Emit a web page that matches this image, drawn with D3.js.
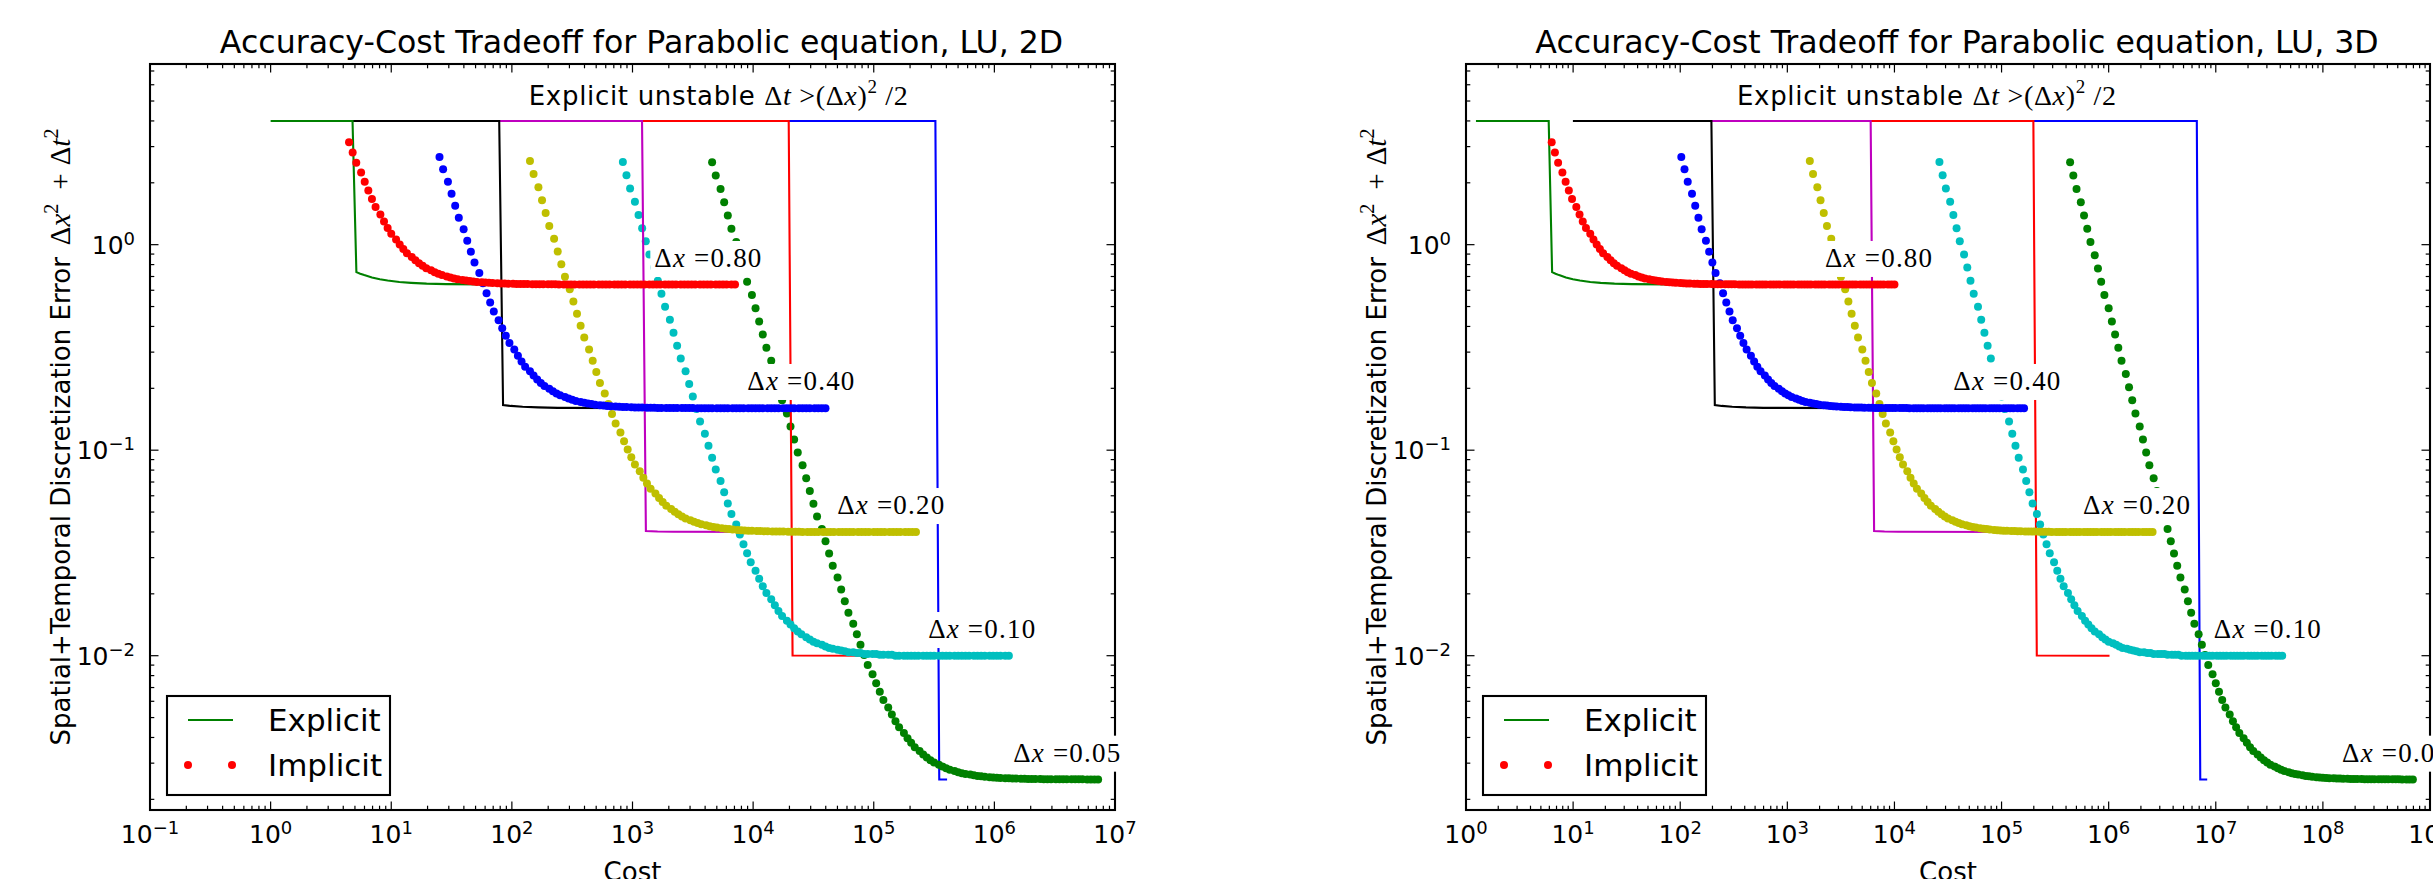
<!DOCTYPE html>
<html>
<head>
<meta charset="utf-8">
<script src="https://cdn.jsdelivr.net/npm/d3@7"></script>
<style>
  body { margin: 0; background: #fff; }
  svg { display: block; }
  text { font-family: "DejaVu Sans", sans-serif; fill: #000; }
  .math { font-family: "Liberation Serif", "DejaVu Serif", serif; }
</style>
</head>
<body>
<script>
// Δx values, in the order the curves were plotted
const dxOrder = ["0.05", "0.10", "0.20", "0.40", "0.80"];

// ---- implicit scheme: error of each dot (same in both panels) ----
const impErr080 = [3.152, 2.805, 2.505, 2.247, 2.025, 1.833, 1.668, 1.526, 1.404, 1.298, 1.207, 1.129, 1.061, 1.003, 0.953, 0.909,
  0.872, 0.840, 0.812, 0.789, 0.768, 0.750, 0.735, 0.722, 0.711, 0.701, 0.692, 0.685, 0.679, 0.674, 0.669, 0.665, 0.662, 0.658, 0.656, 0.654,
  0.652, 0.650, 0.649, 0.648, 0.647, 0.646, 0.645, 0.644, 0.644, 0.643, 0.643, 0.642, 0.642, 0.642, 0.641, 0.641, 0.641, 0.641,
  0.64, 0.64, 0.64, 0.64, 0.64, 0.64, 0.64, 0.64, 0.64, 0.64, 0.64, 0.64, 0.64, 0.64, 0.64, 0.64, 0.64, 0.64, 0.64, 0.64, 0.64, 0.64, 0.64,
  0.64, 0.64, 0.64, 0.64, 0.64, 0.64, 0.64, 0.64, 0.64, 0.64, 0.64, 0.64, 0.64, 0.64, 0.64, 0.64, 0.64, 0.64, 0.64, 0.64, 0.64, 0.64, 0.64];
const impErr040 = [2.672, 2.325, 2.025, 1.767, 1.545, 1.353, 1.188, 1.046, 0.924, 0.818, 0.727, 0.649, 0.581, 0.523, 0.473, 0.429, 0.392, 0.360, 0.332, 0.309,
  0.288, 0.270, 0.255, 0.242, 0.2306, 0.2208, 0.2124, 0.2051, 0.1989, 0.1935, 0.1889, 0.1849, 0.1815, 0.1785, 0.1759, 0.1737, 0.1718, 0.1702, 0.1688, 0.1676,
  0.1665, 0.1656, 0.1648, 0.1642, 0.1636, 0.1631, 0.1627, 0.1623, 0.1620, 0.1617, 0.1615, 0.1613, 0.1611, 0.1609, 0.1608, 0.1607, 0.1606, 0.1605, 0.1604, 0.1604,
  0.1603, 0.1603, 0.1602, 0.1602, 0.1602, 0.1602, 0.1601, 0.1601, 0.1601, 0.1601,
  0.16, 0.16, 0.16, 0.16, 0.16, 0.16, 0.16, 0.16, 0.16, 0.16, 0.16, 0.16, 0.16, 0.16, 0.16,
  0.16, 0.16, 0.16, 0.16, 0.16, 0.16, 0.16, 0.16, 0.16, 0.16, 0.16, 0.16, 0.16, 0.16, 0.16];
const impErr020 = [2.552, 2.205, 1.905, 1.647, 1.425, 1.233, 1.068, 0.926, 0.804, 0.698, 0.607, 0.529, 0.461, 0.403, 0.353, 0.309, 0.272, 0.240, 0.212, 0.1885,
  0.168, 0.150, 0.135, 0.1219, 0.1106, 0.1008, 0.0924, 0.0851, 0.0789, 0.0735, 0.0689, 0.0649, 0.0615, 0.0585, 0.0559, 0.0537, 0.0518, 0.0502, 0.0488, 0.0476,
  0.0465, 0.0456, 0.0448, 0.0442, 0.0436, 0.0431, 0.0427, 0.0423, 0.0420, 0.0417, 0.0415, 0.0413, 0.0411, 0.0409, 0.0408, 0.0407, 0.0406, 0.0405, 0.0404, 0.0404,
  0.0403, 0.0403, 0.0402, 0.0402, 0.0402, 0.0402, 0.0401, 0.0401, 0.0401, 0.0401,
  0.04, 0.04, 0.04, 0.04, 0.04, 0.04, 0.04, 0.04, 0.04, 0.04, 0.04, 0.04, 0.04, 0.04, 0.04,
  0.04, 0.04, 0.04, 0.04, 0.04, 0.04, 0.04, 0.04, 0.04, 0.04, 0.04, 0.04, 0.04, 0.04, 0.04];
const impErr010 = [2.522, 2.175, 1.875, 1.617, 1.395, 1.203, 1.038, 0.896, 0.774, 0.668, 0.577, 0.4985, 0.431, 0.3727, 0.3226, 0.2793, 0.2421, 0.2100, 0.1823, 0.1585,
  0.1380, 0.1203, 0.1050, 0.0919, 0.0806, 0.0708, 0.0624, 0.0551, 0.0489, 0.0435, 0.0389, 0.0349, 0.0315, 0.0285, 0.0259, 0.0237, 0.0218, 0.0202, 0.0188, 0.0176,
  0.0165, 0.0156, 0.0148, 0.0142, 0.0136, 0.0131, 0.0127, 0.0123, 0.0120, 0.0117, 0.0115, 0.0113, 0.0111, 0.0109, 0.0108, 0.0107, 0.0106, 0.0105, 0.0104, 0.0104,
  0.0103, 0.0103, 0.0102, 0.0102, 0.0102, 0.0102, 0.0101, 0.0101, 0.0101, 0.0101,
  0.01, 0.01, 0.01, 0.01, 0.01, 0.01, 0.01, 0.01, 0.01, 0.01, 0.01, 0.01, 0.01, 0.01, 0.01,
  0.01, 0.01, 0.01, 0.01, 0.01, 0.01, 0.01, 0.01, 0.01, 0.01, 0.01, 0.01, 0.01, 0.01, 0.01];
const impErr005 = [2.515, 2.168, 1.868, 1.610, 1.388, 1.196, 1.031, 0.889, 0.766, 0.660, 0.569, 0.491, 0.423, 0.365, 0.315, 0.272, 0.2346, 0.2025, 0.1748, 0.1510,
  0.1305, 0.1128, 0.0975, 0.0844, 0.0731, 0.0633, 0.0549, 0.0476, 0.0414, 0.0360, 0.0314, 0.0274, 0.0240, 0.0210, 0.0184, 0.0162, 0.0143, 0.0127, 0.0113, 0.01007,
  0.00902, 0.00812, 0.00734, 0.00667, 0.00609, 0.00560, 0.00517, 0.00480, 0.00448, 0.00421, 0.00397, 0.00377, 0.00359, 0.00344, 0.00331, 0.00320, 0.00310, 0.00302, 0.00295, 0.00289,
  0.00283, 0.00279, 0.00275, 0.00271, 0.00268, 0.00266, 0.00264, 0.00262, 0.00260, 0.00259, 0.002575, 0.002565, 0.002556, 0.002548, 0.002541, 0.002536, 0.002531, 0.002526, 0.002523, 0.00252,
  0.002517, 0.002515, 0.002513, 0.002511, 0.002509, 0.002508, 0.002507, 0.002506, 0.002505, 0.002504, 0.002504, 0.002503, 0.002503, 0.002502, 0.002502, 0.002502, 0.002501, 0.002501, 0.002501, 0.0025];

// ---- implicit scheme: log10(cost) of each dot, 2D panel ----
const impCost2d080 = [0.65, 0.68, 0.71, 0.75, 0.78, 0.81, 0.84, 0.87, 0.91, 0.94, 0.97, 1.00, 1.04, 1.07, 1.10, 1.13, 1.17, 1.20, 1.23, 1.26,
  1.29, 1.33, 1.36, 1.39, 1.42, 1.46, 1.49, 1.52, 1.55, 1.59, 1.62, 1.65, 1.68, 1.71, 1.75, 1.78, 1.81, 1.84, 1.88, 1.91,
  1.94, 1.97, 2.01, 2.04, 2.07, 2.10, 2.13, 2.17, 2.20, 2.23, 2.26, 2.30, 2.33, 2.36, 2.39, 2.43, 2.46, 2.49, 2.52, 2.56,
  2.59, 2.62, 2.65, 2.68, 2.72, 2.75, 2.78, 2.81, 2.85, 2.88, 2.91, 2.94, 2.98, 3.01, 3.04, 3.07, 3.10, 3.14, 3.17, 3.20,
  3.23, 3.27, 3.30, 3.33, 3.36, 3.40, 3.43, 3.46, 3.49, 3.52, 3.56, 3.59, 3.62, 3.65, 3.69, 3.72, 3.75, 3.78, 3.82, 3.85];
const impCost2d040 = [1.40, 1.43, 1.47, 1.50, 1.53, 1.56, 1.60, 1.63, 1.66, 1.69, 1.73, 1.76, 1.79, 1.82, 1.85, 1.89, 1.92, 1.95, 1.98, 2.02,
  2.05, 2.08, 2.11, 2.15, 2.18, 2.21, 2.24, 2.27, 2.31, 2.34, 2.37, 2.40, 2.44, 2.47, 2.50, 2.53, 2.57, 2.60, 2.63, 2.66,
  2.69, 2.73, 2.76, 2.79, 2.82, 2.86, 2.89, 2.92, 2.95, 2.99, 3.02, 3.05, 3.08, 3.12, 3.15, 3.18, 3.21, 3.24, 3.28, 3.31,
  3.34, 3.37, 3.41, 3.44, 3.47, 3.50, 3.54, 3.57, 3.60, 3.63, 3.66, 3.70, 3.73, 3.76, 3.79, 3.83, 3.86, 3.89, 3.92, 3.96,
  3.99, 4.02, 4.05, 4.08, 4.12, 4.15, 4.18, 4.21, 4.25, 4.28, 4.31, 4.34, 4.38, 4.41, 4.44, 4.47, 4.51, 4.54, 4.57, 4.60];
const impCost2d020 = [2.15, 2.18, 2.22, 2.25, 2.28, 2.31, 2.35, 2.38, 2.41, 2.44, 2.48, 2.51, 2.54, 2.57, 2.60, 2.64, 2.67, 2.70, 2.73, 2.77,
  2.80, 2.83, 2.86, 2.90, 2.93, 2.96, 2.99, 3.02, 3.06, 3.09, 3.12, 3.15, 3.19, 3.22, 3.25, 3.28, 3.32, 3.35, 3.38, 3.41,
  3.44, 3.48, 3.51, 3.54, 3.57, 3.61, 3.64, 3.67, 3.70, 3.74, 3.77, 3.80, 3.83, 3.87, 3.90, 3.93, 3.96, 3.99, 4.03, 4.06,
  4.09, 4.12, 4.16, 4.19, 4.22, 4.25, 4.29, 4.32, 4.35, 4.38, 4.41, 4.45, 4.48, 4.51, 4.54, 4.58, 4.61, 4.64, 4.67, 4.71,
  4.74, 4.77, 4.80, 4.83, 4.87, 4.90, 4.93, 4.96, 5.00, 5.03, 5.06, 5.09, 5.13, 5.16, 5.19, 5.22, 5.26, 5.29, 5.32, 5.35];
const impCost2d010 = [2.92, 2.95, 2.98, 3.02, 3.05, 3.08, 3.11, 3.14, 3.18, 3.21, 3.24, 3.27, 3.31, 3.34, 3.37, 3.40, 3.44, 3.47, 3.50, 3.53,
  3.56, 3.60, 3.63, 3.66, 3.69, 3.73, 3.76, 3.79, 3.82, 3.86, 3.89, 3.92, 3.95, 3.98, 4.02, 4.05, 4.08, 4.11, 4.15, 4.18,
  4.21, 4.24, 4.28, 4.31, 4.34, 4.37, 4.40, 4.44, 4.47, 4.50, 4.53, 4.57, 4.60, 4.63, 4.66, 4.70, 4.73, 4.76, 4.79, 4.83,
  4.86, 4.89, 4.92, 4.95, 4.99, 5.02, 5.05, 5.08, 5.12, 5.15, 5.18, 5.21, 5.25, 5.28, 5.31, 5.34, 5.37, 5.41, 5.44, 5.47,
  5.50, 5.54, 5.57, 5.60, 5.63, 5.67, 5.70, 5.73, 5.76, 5.79, 5.83, 5.86, 5.89, 5.92, 5.96, 5.99, 6.02, 6.05, 6.09, 6.12];
const impCost2d005 = [3.66, 3.69, 3.73, 3.76, 3.79, 3.82, 3.86, 3.89, 3.92, 3.95, 3.99, 4.02, 4.05, 4.08, 4.11, 4.15, 4.18, 4.21, 4.24, 4.28,
  4.31, 4.34, 4.37, 4.41, 4.44, 4.47, 4.50, 4.53, 4.57, 4.60, 4.63, 4.66, 4.70, 4.73, 4.76, 4.79, 4.83, 4.86, 4.89, 4.92,
  4.95, 4.99, 5.02, 5.05, 5.08, 5.12, 5.15, 5.18, 5.21, 5.25, 5.28, 5.31, 5.34, 5.38, 5.41, 5.44, 5.47, 5.50, 5.54, 5.57,
  5.60, 5.63, 5.67, 5.70, 5.73, 5.76, 5.80, 5.83, 5.86, 5.89, 5.92, 5.96, 5.99, 6.02, 6.05, 6.09, 6.12, 6.15, 6.18, 6.22,
  6.25, 6.28, 6.31, 6.34, 6.38, 6.41, 6.44, 6.47, 6.51, 6.54, 6.57, 6.60, 6.64, 6.67, 6.70, 6.73, 6.77, 6.80, 6.83, 6.86];

// ---- implicit scheme: log10(cost) of each dot, 3D panel ----
const impCost3d080 = [0.80, 0.83, 0.86, 0.90, 0.93, 0.96, 0.99, 1.03, 1.06, 1.09, 1.12, 1.16, 1.19, 1.22, 1.25, 1.28, 1.32, 1.35, 1.38, 1.41,
  1.45, 1.48, 1.51, 1.54, 1.58, 1.61, 1.64, 1.67, 1.71, 1.74, 1.77, 1.80, 1.83, 1.87, 1.90, 1.93, 1.96, 2.00, 2.03, 2.06,
  2.09, 2.13, 2.16, 2.19, 2.22, 2.25, 2.29, 2.32, 2.35, 2.38, 2.42, 2.45, 2.48, 2.51, 2.55, 2.58, 2.61, 2.64, 2.67, 2.71,
  2.74, 2.77, 2.80, 2.84, 2.87, 2.90, 2.93, 2.97, 3.00, 3.03, 3.06, 3.10, 3.13, 3.16, 3.19, 3.22, 3.26, 3.29, 3.32, 3.35,
  3.39, 3.42, 3.45, 3.48, 3.52, 3.55, 3.58, 3.61, 3.64, 3.68, 3.71, 3.74, 3.77, 3.81, 3.84, 3.87, 3.90, 3.94, 3.97, 4.00];
const impCost3d040 = [2.01, 2.04, 2.07, 2.11, 2.14, 2.17, 2.20, 2.24, 2.27, 2.30, 2.33, 2.37, 2.40, 2.43, 2.46, 2.49, 2.53, 2.56, 2.59, 2.62,
  2.66, 2.69, 2.72, 2.75, 2.79, 2.82, 2.85, 2.88, 2.92, 2.95, 2.98, 3.01, 3.04, 3.08, 3.11, 3.14, 3.17, 3.21, 3.24, 3.27,
  3.30, 3.34, 3.37, 3.40, 3.43, 3.46, 3.50, 3.53, 3.56, 3.59, 3.63, 3.66, 3.69, 3.72, 3.76, 3.79, 3.82, 3.85, 3.88, 3.92,
  3.95, 3.98, 4.01, 4.05, 4.08, 4.11, 4.14, 4.18, 4.21, 4.24, 4.27, 4.31, 4.34, 4.37, 4.40, 4.43, 4.47, 4.50, 4.53, 4.56,
  4.60, 4.63, 4.66, 4.69, 4.73, 4.76, 4.79, 4.82, 4.85, 4.89, 4.92, 4.95, 4.98, 5.02, 5.05, 5.08, 5.11, 5.15, 5.18, 5.21];
const impCost3d020 = [3.21, 3.24, 3.28, 3.31, 3.34, 3.37, 3.41, 3.44, 3.47, 3.50, 3.54, 3.57, 3.60, 3.63, 3.66, 3.70, 3.73, 3.76, 3.79, 3.83,
  3.86, 3.89, 3.92, 3.96, 3.99, 4.02, 4.05, 4.08, 4.12, 4.15, 4.18, 4.21, 4.25, 4.28, 4.31, 4.34, 4.38, 4.41, 4.44, 4.47,
  4.50, 4.54, 4.57, 4.60, 4.63, 4.67, 4.70, 4.73, 4.76, 4.80, 4.83, 4.86, 4.89, 4.93, 4.96, 4.99, 5.02, 5.05, 5.09, 5.12,
  5.15, 5.18, 5.22, 5.25, 5.28, 5.31, 5.35, 5.38, 5.41, 5.44, 5.47, 5.51, 5.54, 5.57, 5.60, 5.64, 5.67, 5.70, 5.73, 5.77,
  5.80, 5.83, 5.86, 5.89, 5.93, 5.96, 5.99, 6.02, 6.06, 6.09, 6.12, 6.15, 6.19, 6.22, 6.25, 6.28, 6.32, 6.35, 6.38, 6.41];
const impCost3d010 = [4.42, 4.45, 4.48, 4.52, 4.55, 4.58, 4.61, 4.65, 4.68, 4.71, 4.74, 4.78, 4.81, 4.84, 4.87, 4.90, 4.94, 4.97, 5.00, 5.03,
  5.07, 5.10, 5.13, 5.16, 5.20, 5.23, 5.26, 5.29, 5.33, 5.36, 5.39, 5.42, 5.45, 5.49, 5.52, 5.55, 5.58, 5.62, 5.65, 5.68,
  5.71, 5.75, 5.78, 5.81, 5.84, 5.87, 5.91, 5.94, 5.97, 6.00, 6.04, 6.07, 6.10, 6.13, 6.17, 6.20, 6.23, 6.26, 6.29, 6.33,
  6.36, 6.39, 6.42, 6.46, 6.49, 6.52, 6.55, 6.59, 6.62, 6.65, 6.68, 6.72, 6.75, 6.78, 6.81, 6.84, 6.88, 6.91, 6.94, 6.97,
  7.01, 7.04, 7.07, 7.10, 7.14, 7.17, 7.20, 7.23, 7.26, 7.30, 7.33, 7.36, 7.39, 7.43, 7.46, 7.49, 7.52, 7.56, 7.59, 7.62];
const impCost3d005 = [5.64, 5.67, 5.70, 5.74, 5.77, 5.80, 5.83, 5.87, 5.90, 5.93, 5.96, 6.00, 6.03, 6.06, 6.09, 6.12, 6.16, 6.19, 6.22, 6.25,
  6.29, 6.32, 6.35, 6.38, 6.42, 6.45, 6.48, 6.51, 6.55, 6.58, 6.61, 6.64, 6.67, 6.71, 6.74, 6.77, 6.80, 6.84, 6.87, 6.90,
  6.93, 6.97, 7.00, 7.03, 7.06, 7.09, 7.13, 7.16, 7.19, 7.22, 7.26, 7.29, 7.32, 7.35, 7.39, 7.42, 7.45, 7.48, 7.51, 7.55,
  7.58, 7.61, 7.64, 7.68, 7.71, 7.74, 7.77, 7.81, 7.84, 7.87, 7.90, 7.94, 7.97, 8.00, 8.03, 8.06, 8.10, 8.13, 8.16, 8.19,
  8.23, 8.26, 8.29, 8.32, 8.36, 8.39, 8.42, 8.45, 8.48, 8.52, 8.55, 8.58, 8.61, 8.65, 8.68, 8.71, 8.74, 8.78, 8.81, 8.84];

// ---- explicit scheme: error at the line's break points (4 = unstable) ----
const expErr080 = [4, 4, 0.735, 0.722, 0.711, 0.692, 0.679, 0.669, 0.658, 0.652, 0.6465, 0.643, 0.6407, 0.64];
const expErr040 = [4, 4, 0.1656, 0.1642, 0.1627, 0.1615, 0.1607, 0.16];
const expErr020 = [4, 4, 0.0404, 0.0402, 0.0401, 0.04];
const expErr010 = [4, 4, 0.01002, 0.01];
const expErr005 = [4, 4, 0.0025, 0.0025];
// log10(cost), 2D panel
const expCost2d080 = [0, 0.679, 0.711, 0.743, 0.776, 0.840, 0.905, 0.970, 1.067, 1.164, 1.293, 1.455, 1.778, 3.2];
const expCost2d040 = [0.602, 1.895, 1.927, 1.992, 2.089, 2.218, 2.380, 3.802];
const expCost2d020 = [1.204, 3.079, 3.111, 3.208, 3.337, 4.404];
const expCost2d010 = [1.806, 4.295, 4.327, 5.006];
const expCost2d005 = [2.408, 5.511, 5.543, 5.608];
// log10(cost), 3D panel
const expCost3d080 = [0.093, 0.772, 0.804, 0.836, 0.869, 0.933, 0.998, 1.063, 1.160, 1.257, 1.386, 1.548, 1.871, 3.293];
const expCost3d040 = [0.998, 2.291, 2.323, 2.388, 2.485, 2.614, 2.776, 4.198];
const expCost3d020 = [1.903, 3.778, 3.810, 3.907, 4.036, 5.103];
const expCost3d010 = [2.808, 5.297, 5.329, 6.008];
const expCost3d005 = [3.72, 6.823, 6.855, 6.92];

// Δx labels (left end of text), same order as dxOrder
const labelErr = [0.00305, 0.01219, 0.0489, 0.1963, 0.779];
const labelCost2d = [6.156, 5.451, 4.697, 3.952, 3.181];
const labelCost3d = [8.179, 6.982, 5.761, 4.55, 3.352];

// tick exponents
const xExp2d = [-1, 0, 1, 2, 3, 4, 5, 6, 7];
const xExp3d = [0, 1, 2, 3, 4, 5, 6, 7, 8, 9];
const yExp = [-2, -1, 0];

const explicitColor = { "0.05": "#0000ff", "0.10": "#ff0000", "0.20": "#bf00bf", "0.40": "#000000", "0.80": "#008000" };
const implicitColor = { "0.05": "#008000", "0.10": "#00bfbf", "0.20": "#bfbf00", "0.40": "#0000ff", "0.80": "#ff0000" };

const W = 2433, H = 879;
const plotTop = 64, plotBottom = 810;
const yDomain = [0.001775, 7.57];

const svg = d3.select("body").append("svg").attr("width", W).attr("height", H);

const panels = [
  {
    id: "p2d", left: 150, right: 1115, xExp: xExp2d, title: "Accuracy-Cost Tradeoff for Parabolic equation, LU, 2D",
    note: 2.14, labelCost: labelCost2d,
    exp: [expCost2d005, expCost2d010, expCost2d020, expCost2d040, expCost2d080],
    imp: [impCost2d005, impCost2d010, impCost2d020, impCost2d040, impCost2d080]
  },
  {
    id: "p3d", left: 1466, right: 2430, xExp: xExp3d, title: "Accuracy-Cost Tradeoff for Parabolic equation, LU, 3D",
    note: 2.53, labelCost: labelCost3d,
    exp: [expCost3d005, expCost3d010, expCost3d020, expCost3d040, expCost3d080],
    imp: [impCost3d005, impCost3d010, impCost3d020, impCost3d040, impCost3d080]
  }
];
const expErr = [expErr005, expErr010, expErr020, expErr040, expErr080];
const impErr = [impErr005, impErr010, impErr020, impErr040, impErr080];

function powLabel(sel, e, size) {
  sel.append("tspan").text("10");
  sel.append("tspan").attr("font-size", size * 0.72).attr("dy", -size * 0.36)
    .text(e < 0 ? "\u2212" + (-e) : String(e));
}

panels.forEach(p => {
  const x = d3.scaleLog().domain([10 ** p.xExp[0], 10 ** p.xExp[p.xExp.length - 1]]).range([p.left, p.right]);
  const y = d3.scaleLog().domain(yDomain).range([plotBottom, plotTop]);
  const g = svg.append("g");

  g.append("clipPath").attr("id", "clip-" + p.id)
    .append("rect").attr("x", p.left).attr("y", plotTop).attr("width", p.right - p.left).attr("height", plotBottom - plotTop);
  const plot = g.append("g").attr("clip-path", `url(#clip-${p.id})`);

  const line = d3.line().x(d => x(10 ** d[0])).y(d => y(d[1]));

  dxOrder.forEach((dx, i) => {
    plot.append("path")
      .datum(d3.zip(p.exp[i], expErr[i]))
      .attr("d", line)
      .attr("fill", "none")
      .attr("stroke", explicitColor[dx])
      .attr("stroke-width", 2.1);
    plot.append("g").selectAll("circle")
      .data(d3.zip(p.imp[i], impErr[i]))
      .join("circle")
      .attr("cx", d => x(10 ** d[0]))
      .attr("cy", d => y(d[1]))
      .attr("r", 4)
      .attr("fill", implicitColor[dx]);
  });

  // ticks on all four sides, pointing in
  const ticks = g.append("g").attr("stroke", "#000").attr("stroke-width", 1.2);
  const xMinor = [];
  p.xExp.slice(0, -1).forEach(e => { for (let m = 2; m <= 9; m++) xMinor.push(m * 10 ** e); });
  const xMajor = p.xExp.map(e => 10 ** e);
  [[xMajor, 8.5], [xMinor, 4.3]].forEach(([vals, len]) => {
    vals.forEach(v => {
      const px = x(v);
      ticks.append("line").attr("x1", px).attr("x2", px).attr("y1", plotBottom).attr("y2", plotBottom - len);
      ticks.append("line").attr("x1", px).attr("x2", px).attr("y1", plotTop).attr("y2", plotTop + len);
    });
  });
  const yMinor = [];
  [-3, -2, -1, 0].forEach(e => { for (let m = 2; m <= 9; m++) { const v = m * 10 ** e; if (v > yDomain[0] && v < yDomain[1]) yMinor.push(v); } });
  const yMajor = yExp.map(e => 10 ** e);
  [[yMajor, 8.5], [yMinor, 4.3]].forEach(([vals, len]) => {
    vals.forEach(v => {
      const py = y(v);
      ticks.append("line").attr("x1", p.left).attr("x2", p.left + len).attr("y1", py).attr("y2", py);
      ticks.append("line").attr("x1", p.right).attr("x2", p.right - len).attr("y1", py).attr("y2", py);
    });
  });

  // spines
  g.append("rect").attr("x", p.left).attr("y", plotTop).attr("width", p.right - p.left).attr("height", plotBottom - plotTop)
    .attr("fill", "none").attr("stroke", "#000").attr("stroke-width", 2.1);

  // tick labels
  p.xExp.forEach(e => {
    const t = g.append("text").attr("x", x(10 ** e)).attr("y", 843).attr("text-anchor", "middle").attr("font-size", 25);
    powLabel(t, e, 25);
  });
  yExp.forEach(e => {
    const t = g.append("text").attr("x", p.left - 15).attr("y", y(10 ** e) + 9).attr("text-anchor", "end").attr("font-size", 25);
    powLabel(t, e, 25);
  });

  // titles
  g.append("text").attr("x", (p.left + p.right) / 2 + 9).attr("y", 53).attr("text-anchor", "middle")
    .attr("font-size", 31.6).text(p.title);
  g.append("text").attr("x", (p.left + p.right) / 2).attr("y", 881).attr("text-anchor", "middle")
    .attr("font-size", 26).text("Cost");

  const yl = g.append("text").attr("transform", `translate(${p.left - 80},${(plotTop + plotBottom) / 2}) rotate(-90)`)
    .attr("text-anchor", "middle").attr("font-size", 26);
  yl.append("tspan").text("Spatial+Temporal Discretization Error");
  yl.append("tspan").attr("class", "math").attr("font-size", 29).attr("dx", 12).text("\u0394");
  yl.append("tspan").attr("class", "math").attr("font-size", 29).attr("font-style", "italic").text("x");
  yl.append("tspan").attr("class", "math").attr("font-size", 20).attr("dy", -12).text("2");
  yl.append("tspan").attr("class", "math").attr("font-size", 29).attr("dy", 12).attr("dx", 14).text("+");
  yl.append("tspan").attr("class", "math").attr("font-size", 29).attr("dx", 8).text("\u0394");
  yl.append("tspan").attr("class", "math").attr("font-size", 29).attr("font-style", "italic").text("t");
  yl.append("tspan").attr("class", "math").attr("font-size", 20).attr("dy", -12).text("2");

  // unstable note
  const nt = g.append("text").attr("x", x(10 ** p.note)).attr("y", y(4.79)).attr("font-size", 26)
    .attr("textLength", 379).attr("lengthAdjust", "spacing");
  nt.append("tspan").text("Explicit unstable ");
  nt.append("tspan").attr("class", "math").attr("font-size", 28).text("\u0394");
  nt.append("tspan").attr("class", "math").attr("font-size", 28).attr("font-style", "italic").text("t");
  nt.append("tspan").attr("class", "math").attr("font-size", 28).text(" >(\u0394");
  nt.append("tspan").attr("class", "math").attr("font-size", 28).attr("font-style", "italic").text("x");
  nt.append("tspan").attr("class", "math").attr("font-size", 28).text(")");
  nt.append("tspan").attr("class", "math").attr("font-size", 19).attr("dy", -12).text("2");
  nt.append("tspan").attr("class", "math").attr("font-size", 28).attr("dy", 12).text(" /2");

  // Δx labels with white boxes
  dxOrder.forEach((dx, i) => {
    const lg = g.append("g");
    const t = lg.append("text").attr("class", "math")
      .attr("x", x(10 ** p.labelCost[i])).attr("y", y(labelErr[i])).attr("font-size", 27)
      .attr("textLength", 107).attr("lengthAdjust", "spacing");
    t.append("tspan").text("\u0394");
    t.append("tspan").attr("font-style", "italic").text("x");
    t.append("tspan").text(" =" + dx);
    const b = t.node().getBBox();
    lg.insert("rect", "text").attr("x", b.x - 4).attr("y", b.y - 2).attr("width", b.width + 8).attr("height", b.height + 6)
      .attr("fill", "#fff");
  });

  // legend
  const lx = p.left + 17, ly = 696;
  const leg = g.append("g");
  leg.append("rect").attr("x", lx).attr("y", ly).attr("width", 223).attr("height", 99)
    .attr("fill", "#fff").attr("stroke", "#000").attr("stroke-width", 2.1);
  leg.append("line").attr("x1", lx + 21).attr("x2", lx + 66).attr("y1", ly + 24).attr("y2", ly + 24)
    .attr("stroke", explicitColor["0.80"]).attr("stroke-width", 2.1);
  leg.append("text").attr("x", lx + 101).attr("y", ly + 35).attr("font-size", 31).text("Explicit");
  [lx + 21, lx + 65].forEach(cx => {
    leg.append("circle").attr("cx", cx).attr("cy", ly + 69).attr("r", 4).attr("fill", implicitColor["0.80"]);
  });
  leg.append("text").attr("x", lx + 101).attr("y", ly + 80).attr("font-size", 31).text("Implicit");
});
</script>
</body>
</html>
